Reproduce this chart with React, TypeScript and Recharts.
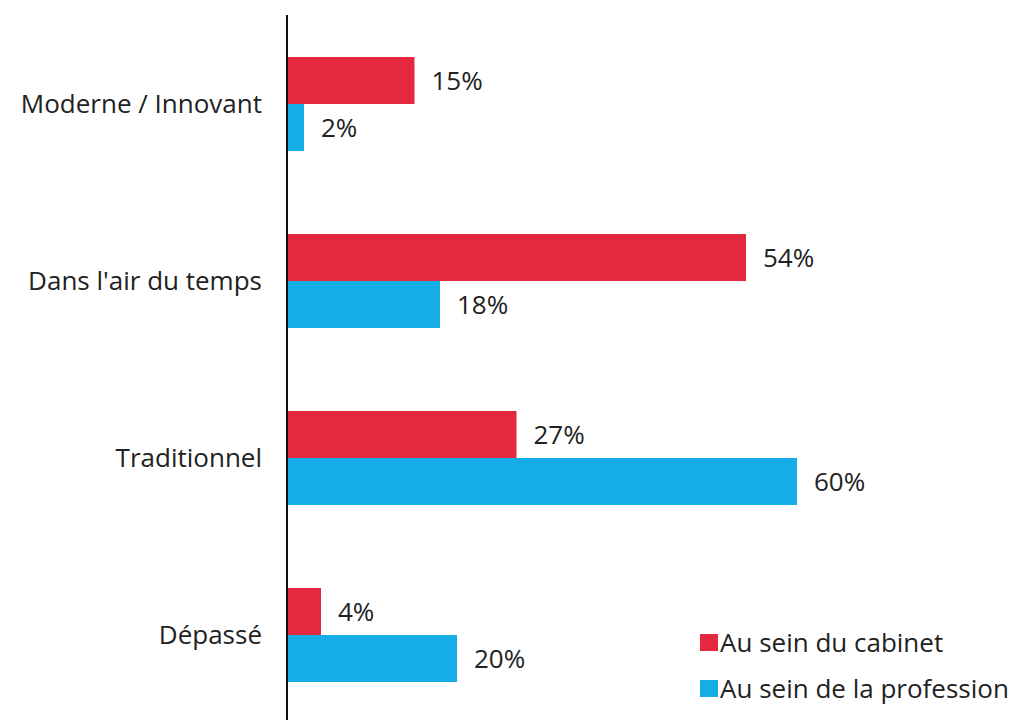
import React from 'react';
import { BarChart, Bar, XAxis, YAxis, LabelList } from 'recharts';

const categories = ['Moderne / Innovant', "Dans l'air du temps", 'Traditionnel', 'Dépassé'];
const cabinet = [15, 54, 27, 4];
const profession = [2, 18, 60, 20];
const seriesNames = ['Au sein du cabinet', 'Au sein de la profession'];
const colors = ['#E3283F', '#14ADE8'];

const data = categories.map((c, i) => ({ name: c, cabinet: cabinet[i], profession: profession[i] }));

const FONT = '"Open Sans", sans-serif';
const FS = 26;

export default function App() {
  return (
    <div style={{ position: 'absolute', left: 0, top: 0, width: 1018, height: 720, background: '#fff', overflow: 'hidden' }}>
      <BarChart
        width={1018}
        height={724}
        data={data}
        layout="vertical"
        margin={{ top: 15, right: 0, bottom: 1, left: 0 }}
        barGap={0}
        barSize={47}
      >
        <XAxis type="number" domain={[0, 86]} hide />
        <YAxis
          type="category"
          dataKey="name"
          width={287}
          axisLine={{ stroke: '#111', strokeWidth: 2 }}
          tickLine={false}
          tickSize={0}
          tickMargin={25}
          tick={{ fill: '#222', fontSize: FS, fontFamily: FONT }}
        />
        <Bar dataKey="cabinet" name={seriesNames[0]} fill={colors[0]} isAnimationActive={false}>
          <LabelList
            dataKey="cabinet"
            position="right"
            offset={17}
            formatter={(v: number) => `${v}%`}
            style={{ fill: '#222', fontSize: FS, fontFamily: FONT }}
          />
        </Bar>
        <Bar dataKey="profession" name={seriesNames[1]} fill={colors[1]} isAnimationActive={false}>
          <LabelList
            dataKey="profession"
            position="right"
            offset={17}
            formatter={(v: number) => `${v}%`}
            style={{ fill: '#222', fontSize: FS, fontFamily: FONT }}
          />
        </Bar>
      </BarChart>
      <div style={{ position: 'absolute', left: 700, top: 619, fontFamily: FONT, fontSize: FS, color: '#222', lineHeight: '46px' }}>
        {seriesNames.map((n, i) => (
          <div key={n} style={{ display: 'flex', alignItems: 'center', height: 46, whiteSpace: 'nowrap' }}>
            <span style={{ display: 'inline-block', width: 18, height: 17, background: colors[i], marginRight: 2 }} />
            <span>{n}</span>
          </div>
        ))}
      </div>
    </div>
  );
}
